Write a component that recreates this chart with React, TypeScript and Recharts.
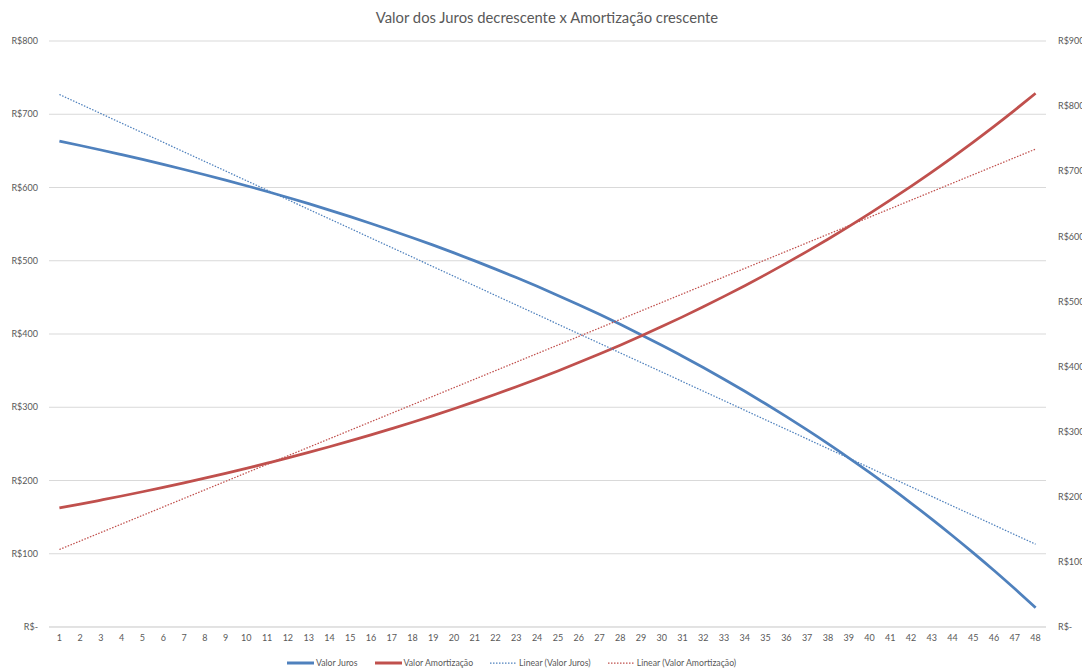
import { LineChart, Line, XAxis, YAxis, CartesianGrid, Legend } from "recharts"

// parcelas 1..48
const periods = Array.from({ length: 48 }, (_, i) => String(i + 1))

const valorJuros = [
  663.2, 657.3, 651.2, 644.8, 638.3, 631.6, 624.6, 617.4, 610.0, 602.4, 594.5, 586.3,
  577.9, 569.2, 560.2, 550.9, 541.3, 531.5, 521.3, 510.7, 499.8, 488.6, 477.0, 465.1,
  452.7, 439.9, 426.8, 413.2, 399.1, 384.6, 369.7, 354.2, 338.3, 321.8, 304.8, 287.2,
  269.1, 250.4, 231.0, 211.1, 190.5, 169.2, 147.3, 124.6, 101.2, 77.1, 52.1, 26.4,
]

const valorAmortizacao = [
  182.8, 188.7, 194.9, 201.2, 207.7, 214.4, 221.4, 228.6, 236.0, 243.6, 251.6, 259.7,
  268.1, 276.8, 285.8, 295.1, 304.7, 314.5, 324.7, 335.3, 346.2, 357.4, 369.0, 381.0,
  393.3, 406.1, 419.2, 432.8, 446.9, 461.4, 476.3, 491.8, 507.8, 524.2, 541.2, 558.8,
  576.9, 595.6, 615.0, 634.9, 655.5, 676.8, 698.7, 721.4, 744.8, 768.9, 793.9, 819.6,
]

// trend lines: value at first and last period
const linearJuros = [727, 113]
const linearAmortizacao = [119, 734]

const leftTicks = [0, 100, 200, 300, 400, 500, 600, 700, 800]
const rightTicks = [0, 100, 200, 300, 400, 500, 600, 700, 800, 900]

const last = periods.length - 1
const data = periods.map((p, i) => ({
  periodo: p,
  juros: valorJuros[i],
  amortizacao: valorAmortizacao[i],
  linJuros: i === 0 ? linearJuros[0] : i === last ? linearJuros[1] : null,
  linAmort: i === 0 ? linearAmortizacao[0] : i === last ? linearAmortizacao[1] : null,
}))

const BLUE = "#4F81BD"
const RED = "#C0504D"
const TEXT = "#595959"

const money = (v: number) => (v === 0 ? "R$-" : `R$${v}`)

const legendItems = [
  { name: "Valor Juros", color: BLUE, dotted: false },
  { name: "Valor Amortização", color: RED, dotted: false },
  { name: "Linear (Valor Juros)", color: BLUE, dotted: true },
  { name: "Linear (Valor Amortização)", color: RED, dotted: true },
]

function ChartLegend() {
  return (
    <div style={{ display: "flex", paddingLeft: 287, gap: 17, fontSize: 8.7, color: TEXT }}>
      {legendItems.map((it) => (
        <div key={it.name} style={{ display: "flex", alignItems: "center", gap: 2 }}>
          <svg width={27} height={6}>
            <line
              x1={0}
              y1={3}
              x2={27}
              y2={3}
              stroke={it.color}
              strokeWidth={it.dotted ? 1.25 : 3}
              strokeDasharray={it.dotted ? "1.5 1.5" : undefined}
            />
          </svg>
          <span>{it.name}</span>
        </div>
      ))}
    </div>
  )
}

export default function App() {
  return (
    <div style={{ position: "fixed", left: 0, top: 0, width: 1082, height: 670, background: "#fff", fontFamily: "Lato, sans-serif" }}>
      <div style={{ position: "absolute", top: 8, left: 0, width: 1094, textAlign: "center", fontSize: 14.8, color: TEXT }}>
        Valor dos Juros decrescente x Amortização crescente
      </div>
      <LineChart width={1082} height={670} data={data} margin={{ top: 41, right: 0, bottom: 13, left: 0 }}>
        <CartesianGrid yAxisId="left" vertical={false} stroke="#D9D9D9" />
        <XAxis
          dataKey="periodo"
          height={30}
          padding={{ left: 10.4, right: 10.4 }}
          tickLine={false}
          tickSize={0}
          tickMargin={8}
          axisLine={{ stroke: "#D9D9D9" }}
          interval={0}
          tick={{ fontSize: 9, fill: TEXT }}
        />
        <YAxis
          yAxisId="left"
          width={49}
          domain={[0, 800]}
          ticks={leftTicks}
          tickFormatter={money}
          axisLine={false}
          tickLine={false}
          tickSize={0}
          tickMargin={11}
          tick={{ fontSize: 9, fill: TEXT }}
        />
        <YAxis
          yAxisId="right"
          orientation="right"
          width={36}
          domain={[0, 900]}
          ticks={rightTicks}
          tickFormatter={money}
          axisLine={false}
          tickLine={false}
          tickSize={0}
          tickMargin={12}
          tick={{ fontSize: 9, fill: TEXT, textAnchor: "start" }}
        />
        <Legend
          layout="horizontal"
          verticalAlign="middle"
          align="center"
          wrapperStyle={{ top: 657, left: 0, width: 1082 }}
          content={() => <ChartLegend />}
        />
        <Line yAxisId="left" type="monotone" dataKey="juros" name="Valor Juros" stroke={BLUE} strokeWidth={2.75} dot={false} isAnimationActive={false} />
        <Line yAxisId="right" type="monotone" dataKey="amortizacao" name="Valor Amortização" stroke={RED} strokeWidth={2.75} dot={false} isAnimationActive={false} />
        <Line yAxisId="left" type="linear" dataKey="linJuros" name="Linear (Valor Juros)" stroke={BLUE} strokeWidth={1.25} strokeDasharray="1.5 1.5" dot={false} connectNulls isAnimationActive={false} />
        <Line yAxisId="right" type="linear" dataKey="linAmort" name="Linear (Valor Amortização)" stroke={RED} strokeWidth={1.25} strokeDasharray="1.5 1.5" dot={false} connectNulls isAnimationActive={false} />
      </LineChart>
    </div>
  )
}
